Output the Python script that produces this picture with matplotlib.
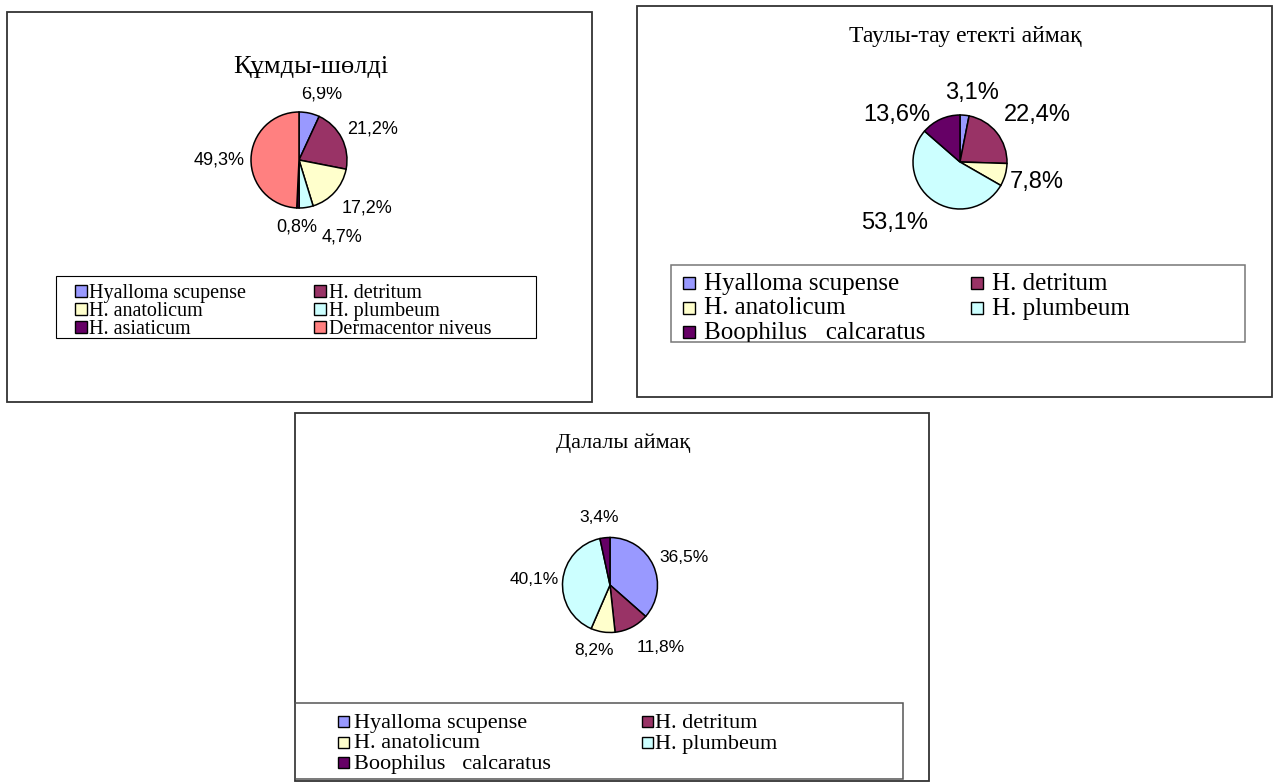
import numpy as np
import matplotlib
matplotlib.use("Agg")
import matplotlib.pyplot as plt
from matplotlib.patches import Rectangle
from matplotlib.transforms import Bbox, TransformedBbox

# ---- data -------------------------------------------------------------
desert_title = "Құмды-шөлді"
desert_species = ["Hyalloma scupense", "H. detritum", "H. anatolicum",
                  "H. plumbeum", "H. asiaticum", "Dermacentor niveus"]
desert_share = [6.9, 21.2, 17.2, 4.7, 0.8, 49.3]

mountain_title = "Таулы-тау етекті аймақ"
mountain_species = ["Hyalloma scupense", "H. detritum", "H. anatolicum",
                    "H. plumbeum", "Boophilus   calcaratus"]
mountain_share = [3.1, 22.4, 7.8, 53.1, 13.6]

steppe_title = "Далалы аймақ"
steppe_species = ["Hyalloma scupense", "H. detritum", "H. anatolicum",
                  "H. plumbeum", "Boophilus   calcaratus"]
steppe_share = [36.5, 11.8, 8.2, 40.1, 3.4]

# ---- styling ----------------------------------------------------------
COL = {
    "Hyalloma scupense": "#9999FF",
    "H. detritum": "#993366",
    "H. anatolicum": "#FFFFCC",
    "H. plumbeum": "#CCFFFF",
    "H. asiaticum": "#660066",
    "Boophilus   calcaratus": "#660066",
    "Dermacentor niveus": "#FF8080",
}
SERIF = "Liberation Serif"
SANS = "Liberation Sans"

W, H = 1274, 782
fig = plt.figure(figsize=(W / 100, H / 100), dpi=100)
ax = fig.add_axes([0, 0, 1, 1])


def frame(x0, y0, x1, y1, color="#333333", lw=1.3):
    r = Rectangle((x0, y0), x1 - x0, y1 - y0, fill=False, edgecolor=color,
                  linewidth=lw, zorder=1)
    ax.add_patch(r)
    return r


def pie(values, center, radius, fontsize, tweaks):
    wedges, _ = ax.pie(values, colors=tweaks["colors"], center=center,
                       radius=radius, startangle=-90, counterclock=True,
                       wedgeprops=dict(edgecolor="black", linewidth=1.1))
    texts = []
    for w, v, (dang, dist) in zip(wedges, values, tweaks["labels"]):
        phi = np.deg2rad((w.theta1 + w.theta2) / 2 + dang)
        x = center[0] + dist * radius * np.cos(phi)
        y = center[1] + dist * radius * np.sin(phi)
        lbl = f"{v:.1f}%".replace(".", ",")
        t = ax.text(x, y, lbl, ha="center", va="center", fontsize=fontsize,
                    family=SANS, color="black", zorder=5)
        texts.append(t)
    return texts


def legend(names, x0, y0, x1, y1, col_x, rows, size, fontsize,
           edge="#000000", lw=0.8):
    box = frame(x0, y0, x1, y1, color=edge, lw=lw)
    clip = TransformedBbox(Bbox([[x0, y0], [x1, y1]]), ax.transData)
    for i, name in enumerate(names):
        r, c = divmod(i, 2)
        mx, tx = col_x[c]
        base = rows[r]
        ax.add_patch(Rectangle((mx, base - size - 1), size, size,
                               facecolor=COL[name], edgecolor="black",
                               linewidth=1.0, zorder=3))
        t = ax.text(tx, base, name, ha="left", va="baseline",
                    fontsize=fontsize, family=SERIF, zorder=4)
        t.set_clip_box(clip)
        t.set_clip_on(True)
    return box


# ---- panel 1: sandy desert -------------------------------------------
frame(7, 12, 592, 402)
ax.text(311, 73, desert_title, ha="center", va="baseline", fontsize=19,
        family=SERIF, zorder=6)
t1 = pie(desert_share, (299, 160), 48, 13,
         {"colors": [COL[n] for n in desert_species],
          "labels": [(6.8, 1.46), (4.3, 1.67), (-6.8, 1.73),
                     (-20.7, 1.84), (0.3, 1.40), (-1.6, 1.67)]})
t1[0].set_clip_box(TransformedBbox(Bbox([[0, 87], [W, H]]), ax.transData))
t1[0].set_clip_on(True)
legend(desert_species, 56, 276, 536, 338,
       [(75, 89), (314, 329)], [298, 316, 334], 12, 14.5)

# ---- panel 2: mountain / foothill ------------------------------------
frame(637, 6, 1272, 397)
ax.text(965, 42, mountain_title, ha="center", va="baseline", fontsize=17,
        family=SERIF)
pie(mountain_share, (960, 162), 47, 17,
    {"colors": [COL[n] for n in mountain_species],
     "labels": [(4.3, 1.49), (7.1, 1.92), (-1.2, 1.69),
                (11.3, 1.90), (-28.8, 1.67)]})
legend(mountain_species, 671, 265, 1245, 342,
       [(683, 704), (971, 992)], [290, 314.5, 339], 12, 18,
       edge="#777777", lw=1.1)

# ---- panel 3: steppe --------------------------------------------------
frame(295, 413, 929, 781)
ax.text(623, 448, steppe_title, ha="center", va="baseline", fontsize=16,
        family=SERIF)
pie(steppe_share, (610, 585), 47.5, 12.5,
    {"colors": [COL[n] for n in steppe_species],
     "labels": [(3.6, 1.66), (-12.0, 1.69), (5.2, 1.41),
                (-1.8, 1.60), (-3.1, 1.45)]})
legend(steppe_species, 295, 703, 903, 779,
       [(338, 354), (642, 655)], [728, 748.5, 769], 11, 16,
       edge="#555555", lw=1.1)

ax.set_xlim(0, W)
ax.set_ylim(H, 0)
ax.set_aspect("auto")
ax.axis("off")

fig.savefig("out.png", dpi=100, facecolor="white")
